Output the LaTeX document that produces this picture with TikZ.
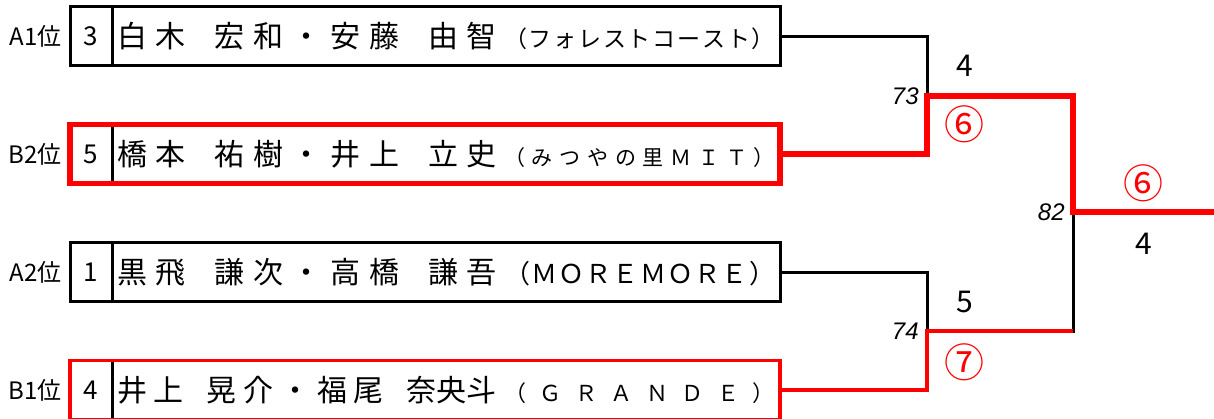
\documentclass[tikz,border=0pt]{standalone}
\usepackage{fontspec}
\setmainfont{Noto Sans CJK JP}
\newfontfamily\scorefont{Liberation Sans}
\usepackage{tikz}
\usetikzlibrary{positioning}
\usepackage{xcolor}
\definecolor{WinRed}{RGB}{255, 0, 0}
\definecolor{InkBlack}{RGB}{0, 0, 0}

% distribute the tokens of #2 over a box #1 wide
\makeatletter
\newcommand{\spreadout}[2]{%
  \makebox[#1][l]{\@tfor\spread@tok:=#2\do{\spread@tok\hspace{0pt plus 1fill}}\unskip}%
}
\makeatother
\newcommand{\namegap}{\hspace{0pt plus 1.4fill}}
\newcommand{\teamtext}[3]{%
  {\fontsize{15}{15}\selectfont\spreadout{190pt}{#1}}%
  \hspace{3.5pt}%
  {\fontsize{#3}{#3}\selectfont\spreadout{135.5pt}{#2}}%
}

\tikzset{%
  seed_box/.style={%
    rectangle,%
    draw=InkBlack,%
    line width=1.5pt,%
    minimum width=21pt,%
    minimum height=29.5pt,%
    inner sep=0pt,%
    outer sep=0pt,%
    font={\fontsize{13}{13}\selectfont},%
  },
  team_box/.style={%
    rectangle,%
    draw=InkBlack,%
    line width=1.5pt,%
    minimum width=334pt,%
    minimum height=29.5pt,%
    inner sep=0pt,%
    outer sep=0pt,%
  },
  rank_label/.style={%
    inner sep=0pt,%
    font={\fontsize{12}{12}\selectfont},%
  },
  win_frame/.style={%
    draw=WinRed,%
    line width=2.8pt,%
  },
  win_frame_thin/.style={%
    draw=WinRed,%
    line width=1.6pt,%
  },
  lose_path/.style={%
    color=InkBlack,%
    line width=1.5pt,%
  },
  win_path/.style={%
    color=WinRed,%
    line width=2.7pt,%
  },
  win_path_thin/.style={%
    color=WinRed,%
    line width=1.6pt,%
  },
  game_label/.style={%
    inner sep=0pt,%
    font={\fontsize{15}{15}\selectfont},%
  },
  set_label/.style={%
    inner sep=0pt,%
    text=WinRed,%
    font={\fontsize{20}{20}\selectfont},%
  },
  match_no/.style={%
    inner sep=0pt,%
    font={\scorefont\itshape\fontsize{12}{12}\selectfont},%
  },
}

\begin{document}
\begin{tikzpicture}[x=0.5pt, y=0.5pt]

    \useasboundingbox (0, 0) rectangle (1214, 418);

    \node [seed_box] (seed1) at (91, 381.5) {3};
    \node [team_box, right = 0pt of seed1] (team1)
      {\teamtext{白木\namegap 宏和・安藤\namegap 由智}{（フォレストコースト）}{11.5}};
    \node [seed_box] (seed2) at (91, 264) {5};
    \node [team_box, right = 0pt of seed2] (team2)
      {\teamtext{橋本\namegap 祐樹・井上\namegap 立史}{（みつやの里ＭＩＴ）}{10.5}};
    \node [seed_box] (seed3) at (91, 146) {1};
    \node [team_box, right = 0pt of seed3] (team3)
      {\teamtext{黒飛\namegap 謙次・高橋\namegap 謙吾}{（ＭＯＲＥＭＯＲＥ）}{13}};
    \node [seed_box] (seed4) at (91, 28) {4};
    \node [team_box, right = 0pt of seed4] (team4)
      {\teamtext{井上\namegap 晃介・福尾\namegap {奈央斗}}{（ＧＲＡＮＤＥ）}{11}};

    \node [rank_label, left = 4pt of seed1] (rank1) {A1位};
    \node [rank_label, left = 4pt of seed2] (rank2) {B2位};
    \node [rank_label, left = 4pt of seed3] (rank3) {A2位};
    \node [rank_label, left = 4pt of seed4] (rank4) {B1位};

    \draw [win_frame] (seed2.north west) rectangle (team2.south east);
    \draw [win_frame_thin] (seed4.north west) rectangle (team4.south east);

    \coordinate (semi1) at (927, 322);
    \coordinate (semi2) at (927, 87);
    \coordinate (final) at (1073, 206);
    \coordinate (champ) at (1214, 206);

    \draw [lose_path] (team1.east) -| (semi1);
    \draw [lose_path] (team3.east) -| (semi2);
    \draw [lose_path] (semi2) -| (final);
    \draw [win_path_thin]
      (team4.east)
      -|
      (semi2)
      --
      (semi2 -| final);
    \draw [win_path]
      (team2.east)
      -|
      (semi1)
      -|
      (final)
      --
      (champ);

    \node [match_no, left = 4pt of semi1] (no73) {73};
    \node [match_no, left = 4pt of semi2] (no74) {74};
    \node [match_no, left = 4pt of final] (no82) {82};

    \node [game_label] (semi1_lose) at (965, 352) {4};
    \node [set_label] (semi1_win) at (964, 294) {⑥};
    \node [game_label] (semi2_lose) at (965, 116) {5};
    \node [set_label] (semi2_win) at (964, 56) {⑦};
    \node [set_label] (final_win) at (1143, 235) {⑥};
    \node [game_label] (final_lose) at (1144, 174) {4};
  \end{tikzpicture}
\end{document}
